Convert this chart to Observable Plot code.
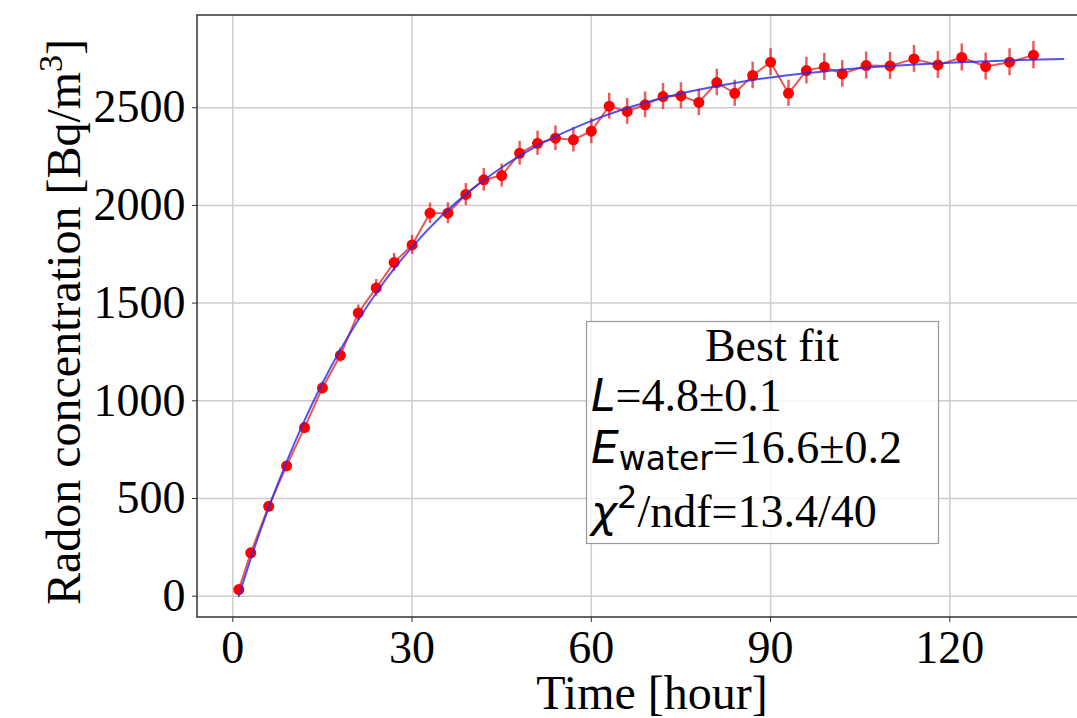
<!DOCTYPE html>
<html><head><meta charset="utf-8">
<script src="https://cdn.jsdelivr.net/npm/d3@7"></script>
<script src="https://cdn.jsdelivr.net/npm/@observablehq/plot@0.6"></script>
<style>body{margin:0;background:#fff} svg{display:block}</style>
</head><body><div id="chart"></div>
<script>
// Measured data (hours, Bq/m^3)
const hours = [1,3,6,9,12,15,18,21,24,27,30,33,36,39,42,45,48,51,54,57,60,63,66,69,72,75,78,81,84,87,90,93,96,99,102,106,110,114,118,122,126,130,134];
const radon = [34,222,460,667,863,1066,1233,1450,1578,1708,1798,1960,1960,2056,2131,2153,2267,2318,2344,2336,2380,2508,2481,2515,2557,2561,2527,2629,2574,2665,2733,2574,2690,2709,2673,2716,2714,2750,2719,2757,2711,2733,2769];
const radonErr = [8,12,18,22,27,31,36,40,43,46,49,52,54,56,58,59,61,62,63,63,64,66,66,66,67,67,67,68,67,68,69,67,68,69,68,69,69,69,69,69,69,69,70];
// Best-fit curve
const fitHours = [1,3,6,9,12,15,18,21,24,27,30,35,40,45,50,55,60,65,70,75,80,85,90,95,100,105,110,115,120,125,130,135,139];
const fitValues = [0,191,453,688,900,1090,1261,1414,1552,1676,1787,1948,2082,2194,2289,2367,2433,2488,2534,2573,2605,2632,2655,2674,2689,2703,2714,2723,2730,2737,2742,2747,2750];
const xTicks = [0,30,60,90,120];
const yTicks = [0,500,1000,1500,2000,2500];
const xDomain = [-5.91, 141.37];
const yDomain = [-109, 2972];

const data = hours.map((h, i) => ({h, v: radon[i], e: radonErr[i]}));
const fit = fitHours.map((h, i) => ({h, v: fitValues[i]}));

const serif = "'Liberation Serif', 'Times New Roman', serif";
const sans = "'DejaVu Sans', sans-serif";

const chart = Plot.plot({
  width: 1077, height: 718,
  marginLeft: 197, marginRight: 0, marginTop: 15, marginBottom: 101,
  style: {fontFamily: serif, fontSize: "46px", color: "#000", background: "#fff", overflow: "visible"},
  x: {domain: xDomain},
  y: {domain: yDomain},
  marks: [
    Plot.gridX(xTicks, {stroke: "#cccccc", strokeOpacity: 1, strokeWidth: 1.5}),
    Plot.gridY(yTicks, {stroke: "#cccccc", strokeOpacity: 1, strokeWidth: 1.5}),
    Plot.axisX(xTicks, {tickSize: 5, tickPadding: 8, label: null, stroke: "#333", tickFormat: d3.format("d")}),
    Plot.axisY(yTicks, {tickSize: 5, tickPadding: 7, label: null, stroke: "#333", tickFormat: d3.format("d")}),
    Plot.ruleX(data, {x: "h", y1: d => d.v - d.e, y2: d => d.v + d.e, stroke: "#e02828", strokeOpacity: 0.75, strokeWidth: 2.5}),
    Plot.line(data, {x: "h", y: "v", stroke: "#e02020", strokeOpacity: 0.75, strokeWidth: 2}),
    Plot.dot(data, {x: "h", y: "v", r: 5.5, fill: "#ff0000"}),
    Plot.line(fit, {x: "h", y: "v", stroke: "#2a2ae8", strokeOpacity: 0.8, strokeWidth: 2, curve: "monotone-x"})
  ]
});
document.getElementById("chart").appendChild(chart);

const svg = d3.select(chart);
const xs = chart.scale("x"), ys = chart.scale("y");
const L = Math.min(...xs.range), R = Math.max(...xs.range);
const T = Math.min(...ys.range), B = Math.max(...ys.range);
// frame (left, top, bottom)
const fr = svg.append("g").attr("stroke", "#333").attr("stroke-width", 1.5).attr("fill", "none");
fr.append("path").attr("d", `M${R},${T}H${L}V${B}H${R}`);

// axis titles
svg.append("text").attr("x", 652).attr("y", 709).attr("text-anchor", "middle")
  .style("font-family", serif).style("font-size", "48px").text("Time [hour]");
const yl = svg.append("text").attr("transform", "translate(80,322) rotate(-90)").attr("text-anchor", "middle")
  .style("font-family", serif).style("font-size", "48px");
yl.append("tspan").text("Radon concentration [Bq/m");
yl.append("tspan").attr("dy", -18).style("font-size", "34px").text("3");
yl.append("tspan").attr("dy", 18).text("]");

// Best fit box
const lg = svg.append("g");
lg.append("rect").attr("x", 586.5).attr("y", 321.5).attr("width", 352).attr("height", 222)
  .attr("fill", "#fff").attr("fill-opacity", 0.8).attr("stroke", "#999").attr("stroke-width", 1.2);
lg.append("text").attr("x", 772).attr("y", 361).attr("text-anchor", "middle")
  .style("font-family", serif).style("font-size", "46px").text("Best fit");
const t1 = lg.append("text").attr("x", 591).attr("y", 411).attr("text-anchor", "start").style("font-family", serif).style("font-size", "46px");
t1.append("tspan").style("font-family", sans).style("font-style", "italic").style("font-size", "44px").text("L");
t1.append("tspan").text("=4.8±0.1");
const t2 = lg.append("text").attr("x", 591).attr("y", 463).attr("text-anchor", "start").style("font-family", serif).style("font-size", "46px");
t2.append("tspan").style("font-family", sans).style("font-style", "italic").style("font-size", "44px").text("E");
t2.append("tspan").attr("dy", 7).style("font-family", sans).style("font-size", "33px").text("water");
t2.append("tspan").attr("dy", -7).text("=16.6±0.2");
const t3 = lg.append("text").attr("x", 591).attr("y", 527).attr("text-anchor", "start").style("font-family", serif).style("font-size", "46px");
t3.append("tspan").style("font-family", sans).style("font-style", "italic").style("font-size", "44px").text("χ");
t3.append("tspan").attr("dy", -19).style("font-family", sans).style("font-size", "32px").text("2");
t3.append("tspan").attr("dy", 19).text("/ndf=13.4/40");
</script>
</body></html>
